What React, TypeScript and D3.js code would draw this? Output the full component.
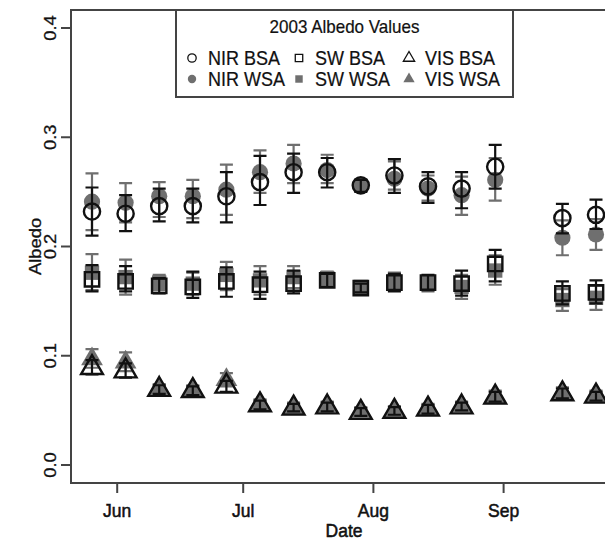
import React from 'react';
import * as d3 from 'd3';

// composite dates (2003)
const dates = [
  '2003-05-26', '2003-06-03', '2003-06-11', '2003-06-19', '2003-06-27',
  '2003-07-05', '2003-07-13', '2003-07-21', '2003-07-29', '2003-08-06',
  '2003-08-14', '2003-08-22', '2003-08-30', '2003-09-15', '2003-09-23',
];

const nirBsa = [0.232, 0.230, 0.237, 0.237, 0.246, 0.259, 0.268, 0.268, 0.256, 0.265, 0.255, 0.253, 0.273, 0.226, 0.229];
const nirBsaLo = [0.210, 0.214, 0.223, 0.222, 0.222, 0.238, 0.249, 0.254, 0.250, 0.249, 0.240, 0.235, 0.253, 0.212, 0.216];
const nirBsaHi = [0.254, 0.247, 0.253, 0.253, 0.268, 0.283, 0.285, 0.281, 0.261, 0.280, 0.268, 0.268, 0.293, 0.239, 0.243];

const nirWsa = [0.241, 0.240, 0.246, 0.246, 0.252, 0.268, 0.276, 0.270, 0.256, 0.262, 0.253, 0.247, 0.261, 0.208, 0.211];
const nirWsaLo = [0.215, 0.222, 0.227, 0.226, 0.229, 0.249, 0.258, 0.258, 0.251, 0.252, 0.242, 0.229, 0.242, 0.192, 0.197];
const nirWsaHi = [0.267, 0.258, 0.259, 0.261, 0.275, 0.288, 0.293, 0.284, 0.261, 0.278, 0.265, 0.264, 0.281, 0.224, 0.225];

const swBsa = [0.170, 0.168, 0.164, 0.163, 0.168, 0.165, 0.166, 0.169, 0.162, 0.167, 0.167, 0.166, 0.184, 0.157, 0.158];
const swBsaLo = [0.159, 0.159, 0.157, 0.153, 0.154, 0.152, 0.157, 0.163, 0.158, 0.159, 0.160, 0.155, 0.168, 0.147, 0.148];
const swBsaHi = [0.183, 0.182, 0.171, 0.177, 0.181, 0.177, 0.178, 0.175, 0.166, 0.175, 0.174, 0.178, 0.197, 0.168, 0.169];

const swWsa = [0.176, 0.172, 0.167, 0.166, 0.174, 0.169, 0.172, 0.171, 0.163, 0.168, 0.166, 0.163, 0.178, 0.151, 0.153];
const swWsaLo = [0.160, 0.156, 0.160, 0.156, 0.160, 0.156, 0.162, 0.165, 0.159, 0.160, 0.159, 0.152, 0.165, 0.141, 0.142];
const swWsaHi = [0.193, 0.188, 0.174, 0.176, 0.186, 0.182, 0.182, 0.177, 0.167, 0.176, 0.173, 0.174, 0.192, 0.161, 0.164];

const visBsa = [0.089, 0.086, 0.069, 0.068, 0.072, 0.055, 0.052, 0.053, 0.048, 0.049, 0.051, 0.053, 0.062, 0.065, 0.063];
const visBsaLo = [0.083, 0.080, 0.065, 0.064, 0.067, 0.051, 0.049, 0.049, 0.045, 0.046, 0.047, 0.050, 0.058, 0.061, 0.059];
const visBsaHi = [0.096, 0.093, 0.073, 0.072, 0.077, 0.059, 0.056, 0.057, 0.052, 0.053, 0.055, 0.057, 0.067, 0.070, 0.067];

const visWsa = [0.097, 0.094, 0.070, 0.069, 0.078, 0.056, 0.053, 0.054, 0.049, 0.050, 0.052, 0.054, 0.063, 0.066, 0.064];
const visWsaLo = [0.089, 0.086, 0.066, 0.065, 0.072, 0.052, 0.050, 0.050, 0.046, 0.047, 0.048, 0.051, 0.059, 0.062, 0.060];
const visWsaHi = [0.106, 0.103, 0.074, 0.073, 0.084, 0.060, 0.057, 0.058, 0.053, 0.054, 0.056, 0.058, 0.068, 0.071, 0.068];

const yTicks = [0.0, 0.1, 0.2, 0.3, 0.4];
const xTicks = ['2003-06-01', '2003-07-01', '2003-08-01', '2003-09-01'];

const legendTitle = '2003 Albedo Values';
const legendItems = [
  { label: 'NIR BSA', shape: 'circle', filled: false },
  { label: 'NIR WSA', shape: 'circle', filled: true },
  { label: 'SW BSA', shape: 'square', filled: false },
  { label: 'SW WSA', shape: 'square', filled: true },
  { label: 'VIS BSA', shape: 'triangle', filled: false },
  { label: 'VIS WSA', shape: 'triangle', filled: true },
];

const W = 605;
const H = 541;
const GREY = '#6f6f6f';
const BLACK = '#111';
const FONT = '"Liberation Sans", Arial, sans-serif';

const parse = d3.utcParse('%Y-%m-%d');
const fmt = d3.utcFormat('%b');

const x = d3.scaleUtc()
  .domain([parse('2003-05-21')!, parse('2003-09-28')!])
  .range([71, 617]);
const y = d3.scaleLinear().domain([-0.0165, 0.4165]).range([483, 10]);

// R-like pch geometry
const xc = 8.1;
function markerPath(shape: string, size = xc) {
  if (shape === 'circle') {
    return d3.arc()({ innerRadius: 0, outerRadius: size, startAngle: 0, endAngle: 2 * Math.PI } as any) as string;
  }
  if (shape === 'square') {
    const s = size * 0.886;
    return `M${-s},${-s}H${s}V${s}H${-s}Z`;
  }
  const r = 1.555 * size;
  const hx = 1.347 * size;
  const yc = 0.778 * size;
  return `M0,${-r}L${hx},${yc}L${-hx},${yc}Z`;
}

type Series = { mean: number[]; lo: number[]; hi: number[]; shape: string; filled: boolean };

const wsaSeries: Series[] = [
  { mean: nirWsa, lo: nirWsaLo, hi: nirWsaHi, shape: 'circle', filled: true },
  { mean: swWsa, lo: swWsaLo, hi: swWsaHi, shape: 'square', filled: true },
  { mean: visWsa, lo: visWsaLo, hi: visWsaHi, shape: 'triangle', filled: true },
];
const bsaSeries: Series[] = [
  { mean: nirBsa, lo: nirBsaLo, hi: nirBsaHi, shape: 'circle', filled: false },
  { mean: swBsa, lo: swBsaLo, hi: swBsaHi, shape: 'square', filled: false },
  { mean: visBsa, lo: visBsaLo, hi: visBsaHi, shape: 'triangle', filled: false },
];

const cap = 6.5;

function SeriesMarks({ s }: { s: Series }) {
  const color = s.filled ? GREY : BLACK;
  return (
    <g>
      {dates.map((d, i) => {
        const cx = x(parse(d)!);
        return (
          <g key={i}>
            <path
              d={`M${cx},${y(s.lo[i])}V${y(s.hi[i])}M${cx - cap},${y(s.lo[i])}H${cx + cap}M${cx - cap},${y(s.hi[i])}H${cx + cap}`}
              stroke={color}
              strokeWidth={2.2}
              fill="none"
            />
            <path
              d={markerPath(s.shape)}
              transform={`translate(${cx},${y(s.mean[i])})`}
              fill={s.filled ? GREY : 'none'}
              stroke={s.filled ? 'none' : BLACK}
              strokeWidth={2.4}
            />
          </g>
        );
      })}
    </g>
  );
}

// horizontal text, slightly stretched vertically like the source picture
function HText({ x: tx, y: ty, size, anchor = 'middle', weight = 0.35, children }: any) {
  return (
    <text
      transform={`translate(${tx},${ty}) scale(1,1.1)`}
      textAnchor={anchor}
      fontSize={size}
      fill={BLACK}
      stroke={BLACK}
      strokeWidth={weight}
    >
      {children}
    </text>
  );
}

export default function App() {
  const left = x.range()[0];
  const right = x.range()[1];
  const top = y.range()[1];
  const bottom = y.range()[0];
  const legendCols = [192, 299, 409];
  const legendRows = [58, 79];

  return (
    <div style={{ position: 'absolute', left: 0, top: 0 }}>
      <svg width={W} height={H} style={{ display: 'block', background: '#fff' }} fontFamily={FONT}>
        {wsaSeries.map((s, i) => <SeriesMarks key={'w' + i} s={s} />)}
        {bsaSeries.map((s, i) => <SeriesMarks key={'b' + i} s={s} />)}

        {/* frame */}
        <rect x={left} y={top} width={right - left} height={bottom - top} fill="none" stroke="#444" strokeWidth={2} />

        {/* y axis */}
        {yTicks.map(t => (
          <g key={t}>
            <line x1={left - 10} x2={left} y1={y(t)} y2={y(t)} stroke="#444" strokeWidth={2} />
            <text
              transform={`translate(56,${y(t)}) rotate(-90) scale(1.05,0.9)`}
              textAnchor="middle"
              fontSize={17.5}
              fill={BLACK}
              stroke={BLACK}
              strokeWidth={0.3}
            >
              {d3.format('.1f')(t)}
            </text>
          </g>
        ))}
        <text
          transform={`translate(41,${(top + bottom) / 2}) rotate(-90) scale(1.05,0.9)`}
          textAnchor="middle"
          fontSize={17.5}
          fill={BLACK}
          stroke={BLACK}
          strokeWidth={0.3}
        >
          Albedo
        </text>

        {/* x axis */}
        {xTicks.map(t => {
          const tx = x(parse(t)!);
          return (
            <g key={t}>
              <line x1={tx} x2={tx} y1={bottom} y2={bottom + 10} stroke="#444" strokeWidth={2} />
              <HText x={tx} y={517} size={17.5} weight={0.5}>
                {fmt(parse(t)!)}
              </HText>
            </g>
          );
        })}
        <HText x={(left + right) / 2} y={537} size={17.5} weight={0.5}>
          Date
        </HText>

        {/* legend */}
        <rect x={176} y={top} width={337} height={87} fill="#fff" stroke="#444" strokeWidth={2} />
        <HText x={344.5} y={33} size={17} weight={0.2}>
          {legendTitle}
        </HText>
        {legendItems.map((it, i) => {
          const col = Math.floor(i / 2);
          const row = i % 2;
          const lx = legendCols[col];
          const ly = legendRows[row];
          return (
            <g key={it.label}>
              <path
                d={markerPath(it.shape, 4.2)}
                transform={`translate(${lx},${ly})`}
                fill={it.filled ? GREY : 'none'}
                stroke={it.filled ? 'none' : BLACK}
                strokeWidth={1.3}
              />
              <HText x={lx + 16} y={ly + 6.5} size={18} anchor="start" weight={0.2}>
                {it.label}
              </HText>
            </g>
          );
        })}
      </svg>
    </div>
  );
}
